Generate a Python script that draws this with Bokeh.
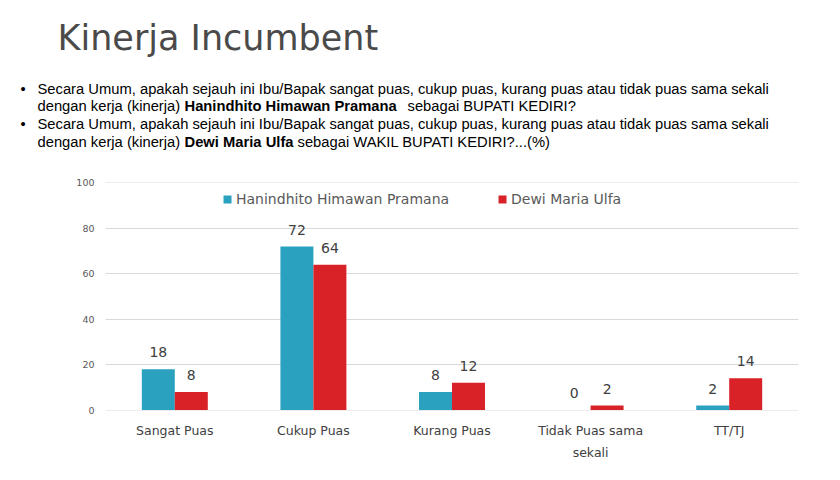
from bokeh.plotting import figure
from bokeh.models import (ColumnDataSource, Legend, LegendItem, FactorRange,
                          Range1d, CategoricalAxis, CustomJSTickFormatter)
from bokeh.transform import dodge
from bokeh.core.properties import value
from bokeh.embed import file_html
from bokeh.resources import INLINE

# ---- data ----
categories = ["Sangat Puas", "Cukup Puas", "Kurang Puas", "Tidak Puas sama sekali", "TT/TJ"]
label_line1 = ["Sangat Puas", "Cukup Puas", "Kurang Puas", "Tidak Puas sama", "TT/TJ"]
label_line2 = ["", "", "", "sekali", ""]
hanindhito = [18, 72, 8, 0, 2]
dewi = [8, 64, 12, 2, 14]
series_names = ["Hanindhito Himawan Pramana", "Dewi Maria Ulfa"]
y_ticks = [0, 20, 40, 60, 80, 100]

title_text = "Kinerja Incumbent"
q_line1 = "Secara Umum, apakah sejauh ini Ibu/Bapak sangat puas, cukup puas, kurang puas atau tidak puas sama sekali"
q_prefix = "dengan kerja (kinerja) "
q1_bold = "Hanindhito Himawan Pramana"
q1_tail = "sebagai BUPATI KEDIRI?"
q2_bold = "Dewi Maria Ulfa"
q2_tail = "sebagai WAKIL BUPATI KEDIRI?...(%)"

BLUE = "#2ba1c0"
RED = "#d92128"
CHART_FONT = "DejaVu Sans"
HEAD_FONT = "Liberation Sans"

W = 832
HEAD_H = 160
TOTAL_H = 472

# ---------------- header figure (pixel-like coordinates, y downward) ----------------
h = figure(width=W, height=HEAD_H, x_range=Range1d(0, W), y_range=Range1d(HEAD_H, 0),
           x_axis_location=None, y_axis_location=None, min_border=0,
           output_backend="svg", toolbar_location=None)
h.grid.visible = False
h.outline_line_color = None
h.background_fill_color = "white"
h.border_fill_color = "white"


def htext(txt, x, y, size, font, style="normal", color="black"):
    h.text(x=[x], y=[y], text=[txt], text_font=value(font), text_font_size=size,
           text_font_style=style, text_color=color,
           text_align="left", text_baseline="alphabetic")


QS = "14.75px"
L1, L2, L3, L4 = 88.0, 105.8, 123.6, 141.4
htext(title_text, 57, 37, "35px", CHART_FONT, color="#4a4a4a")
htext("\u2022", 20, L1, QS, HEAD_FONT)
htext(q_line1, 37, L1, QS, HEAD_FONT)
htext(q_prefix, 37, L2, QS, HEAD_FONT)
htext(q1_bold, 184, L2, QS, HEAD_FONT, style="bold")
htext(q1_tail, 407, L2, QS, HEAD_FONT)
htext("\u2022", 20, L3, QS, HEAD_FONT)
htext(q_line1, 37, L3, QS, HEAD_FONT)
htext(q_prefix, 37, L4, QS, HEAD_FONT)
htext(q2_bold, 184, L4, QS, HEAD_FONT, style="bold")
htext(q2_tail, 297, L4, QS, HEAD_FONT)

# ---------------- chart figure ----------------
src = ColumnDataSource(dict(
    cat=categories,
    h=hanindhito,
    d=dewi,
    h_lbl=[str(v) for v in hanindhito],
    d_lbl=[str(v) for v in dewi],
))

FRAME_TOP = 182 - HEAD_H
FRAME_H = 228
p = figure(
    x_range=FactorRange(*categories), y_range=Range1d(-0.2, 100.2),
    width=W, height=TOTAL_H - HEAD_H,
    frame_width=693, frame_height=FRAME_H,
    min_border_left=105, min_border_right=W - 105 - 693,
    min_border_top=FRAME_TOP, min_border_bottom=TOTAL_H - HEAD_H - FRAME_TOP - FRAME_H,
    output_backend="svg", toolbar_location=None,
)
p.outline_line_color = None
p.background_fill_color = "white"
p.border_fill_color = "white"

bw = 0.238
off = 0.119
r1 = p.vbar(x=dodge("cat", -off, range=p.x_range), top="h", width=bw, source=src,
            fill_color=BLUE, line_color=None)
r2 = p.vbar(x=dodge("cat", off, range=p.x_range), top="d", width=bw, source=src,
            fill_color=RED, line_color=None)

for col, dx in (("h_lbl", -off), ("d_lbl", off)):
    p.text(x=dodge("cat", dx, range=p.x_range), y=col[0], text=col, source=src,
           text_align="center", text_baseline="alphabetic", y_offset=-17,
           text_font=value(CHART_FONT), text_font_size="14px", text_color="#404040")

# axes
p.yaxis.ticker = y_ticks
p.yaxis.axis_line_color = None
p.yaxis.major_tick_line_color = None
p.yaxis.major_tick_out = 0
p.yaxis.minor_tick_line_color = None
p.yaxis.minor_tick_out = 0
p.yaxis.major_label_text_font = CHART_FONT
p.yaxis.major_label_text_font_size = "9.5px"
p.yaxis.major_label_text_color = "#595959"
p.yaxis.major_label_standoff = 11


def style_xaxis(ax, standoff, labels):
    ax.axis_line_color = None
    ax.major_tick_line_color = None
    ax.major_tick_out = 0
    ax.minor_tick_line_color = None
    ax.minor_tick_out = 0
    ax.major_label_text_font = CHART_FONT
    ax.major_label_text_font_size = "12.5px"
    ax.major_label_text_color = "#404040"
    ax.major_label_standoff = standoff
    ax.formatter = CustomJSTickFormatter(
        args=dict(cats=categories, labs=labels),
        code="const i = cats.indexOf(tick); return i >= 0 ? labs[i] : tick;")


xa = p.xaxis[0]
style_xaxis(xa, 12, label_line1)

xa2 = CategoricalAxis()
style_xaxis(xa2, 4, label_line2)
p.add_layout(xa2, "below")

p.xgrid.grid_line_color = None
p.ygrid.grid_line_color = "#d9d9d9"
p.ygrid.grid_line_width = 1

# legends (two single-item legends placed inside the frame top)
for r, name, lx in ((r1, series_names[0], 117), (r2, series_names[1], 392)):
    lg = Legend(items=[LegendItem(label=name, renderers=[r])],
                location=(lx, FRAME_H - 25), orientation="horizontal",
                padding=0, margin=0, spacing=0,
                glyph_width=10, glyph_height=10, label_standoff=4,
                label_text_font=CHART_FONT, label_text_font_size="14px",
                label_text_color="#595959",
                border_line_color=None, background_fill_alpha=0)
    p.add_layout(lg, "center")

open("out.html", "w").write(file_html([h, p], INLINE))
